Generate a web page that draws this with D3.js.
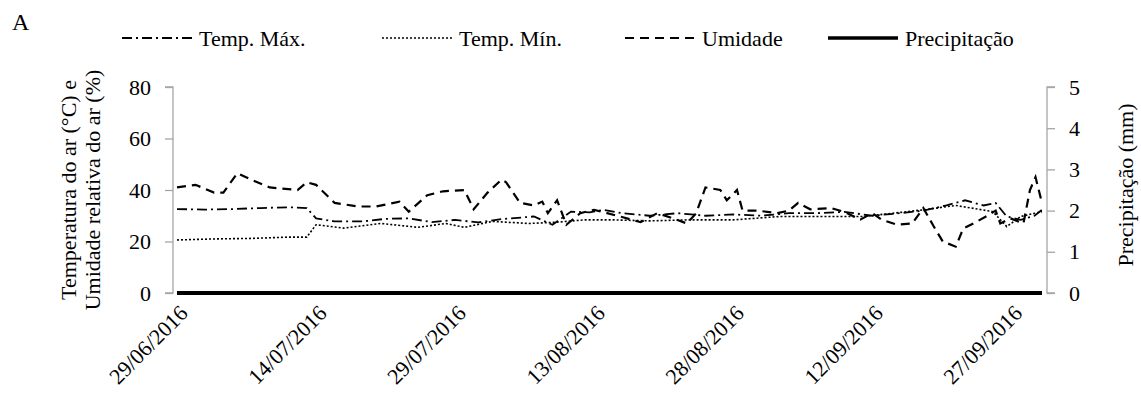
<!DOCTYPE html>
<html><head><meta charset="utf-8">
<script src="https://cdn.jsdelivr.net/npm/d3@7"></script>
<style>body{margin:0;background:#fff}svg text{font-family:"Liberation Serif","Times New Roman",serif;fill:#000}</style>
</head><body><svg id="c" width="1141" height="412"></svg>
<script>
const startDate = "2016-06-29";
const tickLabels = ["29/06/2016","14/07/2016","29/07/2016","13/08/2016","28/08/2016","12/09/2016","27/09/2016"];
const humDays = [0,2,4,5,6.5,8,10,13,14,15,17,19.5,21.5,24,25,27,28.7,31,32,33.5,35,35.5,37,38.5,39.4,40,41,42,43.5,45,46.4,48,50,51.8,53.5,55,56,57,58.6,59.3,60.4,61,62.6,64.7,66,67,68.3,70.5,72,73.7,75,76,77.7,79.3,80.5,81.6,82.6,84,84.8,85.9,87.4,88.3,88.8,89.9,91.3,92,92.6,93.3];
const humVals = [41,42,39,39,46.5,44,41,40,43,42,35,33.6,33.6,35.5,31.6,38,39.5,40,32.5,39,44,43,35,34,35.5,31,36,26.5,31,32.3,31,29.5,27.5,31,29,27,31,41,40,36,40,32,32,31,32,35,32.5,33,31.5,28.5,31,28.5,26.5,27,33,26,20,18,25,27,30,32,27,29,27,40,45,35];
const maxDays = [0,3,6,9,12,14,15,17,20,22.5,25,27.5,30,32.5,35,38.5,40.5,42.5,44.5,46,48,51,54,57,60,63,66,69,72,75,78,80.5,83,85,87,88.3,89.5,91,92.5,93.3];
const maxVals = [32.6,32.4,32.6,33,33.3,33,29,27.8,27.8,28.8,29,27.5,28.4,27.4,28.7,29.7,26.5,31.6,31.3,32.3,31,30,31,30,30.5,30,31,31,31.5,30,31,32,34,36,34,35,29.7,28.4,30,32.3];
const minDays = [0,4,8,12,14,15,18,22,26,29,31,34,38,41,44,47,51,55,60,65,70,74,80.5,84,88,89.5,91,93.3];
const minVals = [20.6,21,21.2,21.7,21.7,26.5,25.2,27,25.5,27,25.5,27.8,27,27.5,28.4,28.4,28,28.4,28.4,29.7,29.7,29.7,32.3,34,31.6,25.8,29.7,31.6];
const precDays = [0,93.3];
const precVals = [0,0];

const svg = d3.select("#c");
const day0 = d3.timeParse("%Y-%m-%d")(startDate);
const dt = d => day0.getTime() + d*864e5;
const x = d3.scaleTime().domain([day0, new Date(dt(93.3))]).range([177, 1042]);
const y = d3.scaleLinear().domain([0,80]).range([293,87]);
const y2 = d3.scaleLinear().domain([0,5]).range([293,87]);
const fmt = d3.timeFormat("%d/%m/%Y");
const tickDates = tickLabels.map(s => d3.timeParse("%d/%m/%Y")(s));

const gl = svg.append("g").attr("transform","translate(173,0)").call(d3.axisLeft(y).ticks(4).tickSize(8).tickPadding(14));
const gr = svg.append("g").attr("transform","translate(1047,0)").call(d3.axisRight(y2).ticks(5).tickSize(8).tickPadding(14));
const gx = svg.append("g").attr("transform","translate(0,293)").call(d3.axisBottom(x).tickValues(tickDates).tickFormat(fmt).tickSize(0));
[gl,gr,gx].forEach(g=>{g.selectAll("path,line").attr("stroke","#a6a6a6").attr("stroke-width",1.3);g.selectAll("text").attr("font-size",22).style("font-family","Liberation Serif");});
gl.select(".domain").attr("d","M-8,87H0V293H-8");
gr.select(".domain").attr("d","M8,87H0V293H8");
gx.select(".domain").remove();
gx.selectAll("text").attr("text-anchor","end").attr("transform","translate(4,14) rotate(-45)").attr("dy","0.35em").attr("dx","0");

const line = (ds,vs,sc) => d3.line().x((d,i)=>x(new Date(dt(ds[i])))).y(d=>sc(d))(vs);
const series = [
 {ds:humDays,vs:humVals,dash:"9,6",w:2.2,sc:y},
 {ds:maxDays,vs:maxVals,dash:"10,4,2,4",w:1.8,sc:y},
 {ds:minDays,vs:minVals,dash:"2,2",w:1.6,sc:y},
 {ds:precDays,vs:precVals,dash:null,w:4,sc:y2}];
series.forEach(s=>svg.append("path").attr("d",line(s.ds,s.vs,s.sc)).attr("fill","none").attr("stroke","#000").attr("stroke-width",s.w).attr("stroke-dasharray",s.dash));

svg.append("text").attr("x",12).attr("y",30).attr("font-size",24).text("A");
const legend = [
 {t:"Temp. Máx.",dash:"10,4,2,4",w:1.8,x:122},
 {t:"Temp. Mín.",dash:"2,2",w:1.6,x:382},
 {t:"Umidade",dash:"9,6",w:2.2,x:625},
 {t:"Precipitação",dash:null,w:3.5,x:828}];
legend.forEach(l=>{
 svg.append("line").attr("x1",l.x).attr("x2",l.x+70).attr("y1",38).attr("y2",38).attr("stroke","#000").attr("stroke-width",l.w).attr("stroke-dasharray",l.dash);
 svg.append("text").attr("x",l.x+77).attr("y",46).attr("font-size",22).text(l.t);
});
svg.append("text").attr("transform","translate(76,190) rotate(-90)").attr("text-anchor","middle").attr("font-size",22)
 .selectAll("tspan").data(["Temperatura do ar (°C) e","Umidade relativa do ar (%)"]).join("tspan").attr("x",0).attr("dy",(d,i)=>i?24:0).text(d=>d);
svg.append("text").attr("transform","translate(1133,185) rotate(-90)").attr("text-anchor","middle").attr("font-size",22).text("Precipitação (mm)");
</script></body></html>
